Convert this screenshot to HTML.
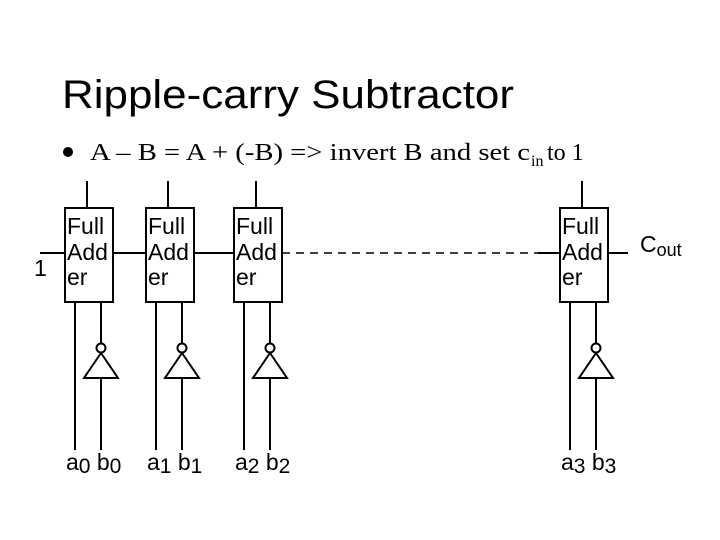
<!DOCTYPE html>
<html><head><meta charset="utf-8"><style>html,body{margin:0;padding:0;background:#fff}</style></head>
<body>
<svg width="720" height="540" xmlns="http://www.w3.org/2000/svg" style="display:block">
<rect width="720" height="540" fill="#fff"/>
<text x="62" y="108" font-family="Liberation Sans, sans-serif" font-size="40" textLength="452" lengthAdjust="spacingAndGlyphs">Ripple-carry Subtractor</text>
<circle cx="68" cy="152" r="5" fill="#000"/>
<text x="90" y="160" font-family="Liberation Serif, serif" font-size="24" textLength="440" lengthAdjust="spacingAndGlyphs">A – B = A + (-B) =&gt; invert B and set c</text>
<text x="531" y="166" font-family="Liberation Serif, serif" font-size="16">in</text>
<text x="547" y="160" font-family="Liberation Serif, serif" font-size="24">to 1</text>
<g stroke="#000" stroke-width="2" fill="none">
<line x1="40" y1="253" x2="65" y2="253"/>
<line x1="113" y1="253" x2="146" y2="253"/>
<line x1="194" y1="253" x2="234" y2="253"/>
<line x1="282" y1="253" x2="538" y2="253" stroke-width="1.5" stroke-dasharray="8,6"/>
<line x1="538" y1="253" x2="560" y2="253"/>
<line x1="608" y1="253" x2="628" y2="253"/>
</g>
<g font-family="Liberation Sans, sans-serif" font-size="23">
<text x="34" y="276">1</text>
<text x="640" y="252">C<tspan font-size="18" dy="4">out</tspan></text>
</g>
<defs>
<g id="fa">
<line x1="22" y1="181" x2="22" y2="208" stroke="#000" stroke-width="2"/>
<rect x="0" y="208" width="48" height="94" fill="#fff" stroke="#000" stroke-width="2"/>
<text x="2" y="234" font-family="Liberation Sans, sans-serif" font-size="23">Full</text>
<text x="2" y="260" font-family="Liberation Sans, sans-serif" font-size="23">Add</text>
<text x="2" y="285" font-family="Liberation Sans, sans-serif" font-size="23">er</text>
<line x1="10" y1="302" x2="10" y2="450" stroke="#000" stroke-width="2"/>
<line x1="36" y1="302" x2="36" y2="344" stroke="#000" stroke-width="2"/>
<circle cx="36" cy="348" r="4.5" fill="#fff" stroke="#000" stroke-width="2"/>
<polygon points="36,353 19,378 53,378" fill="#fff" stroke="#000" stroke-width="2"/>
<line x1="36" y1="378" x2="36" y2="450" stroke="#000" stroke-width="2"/>
</g>
</defs>
<use href="#fa" x="65"/>
<use href="#fa" x="146"/>
<use href="#fa" x="234"/>
<use href="#fa" x="560"/>
<g font-family="Liberation Sans, sans-serif" font-size="23">
<text x="66" y="470">a<tspan font-size="21" dy="3">0</tspan><tspan dy="-3"> b</tspan><tspan font-size="21" dy="3">0</tspan></text>
<text x="147" y="470">a<tspan font-size="21" dy="3">1</tspan><tspan dy="-3"> b</tspan><tspan font-size="21" dy="3">1</tspan></text>
<text x="235" y="470">a<tspan font-size="21" dy="3">2</tspan><tspan dy="-3"> b</tspan><tspan font-size="21" dy="3">2</tspan></text>
<text x="561" y="470">a<tspan font-size="21" dy="3">3</tspan><tspan dy="-3"> b</tspan><tspan font-size="21" dy="3">3</tspan></text>
</g>
</svg>
</body></html>
